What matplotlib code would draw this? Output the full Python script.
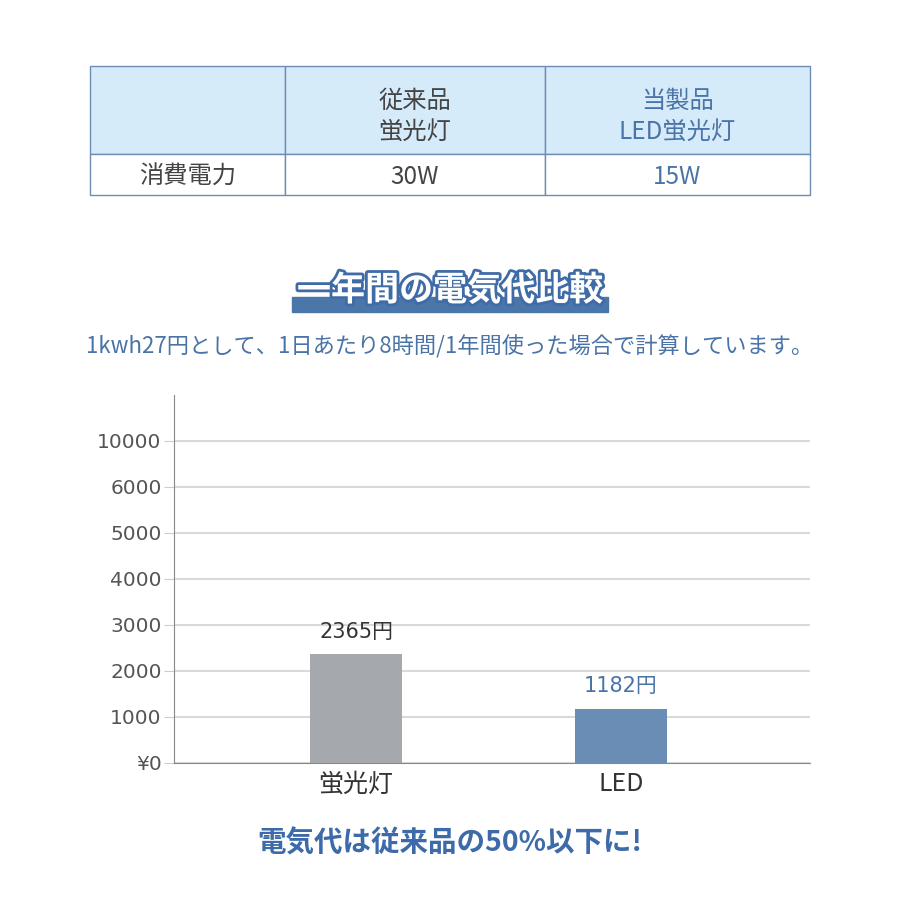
import matplotlib
matplotlib.use('Agg')
import matplotlib.pyplot as plt
import matplotlib.patheffects as pe
from matplotlib.patches import Rectangle
from matplotlib.transforms import Affine2D

plt.rcParams['font.family'] = ['Noto Sans CJK JP', 'DejaVu Sans']

# table data
table_header = ['', '従来品\n蛍光灯', '当製品\nLED蛍光灯']
table_row = ['消費電力', '30W', '15W']

# chart data
categories = ['蛍光灯', 'LED']
costs = [2365, 1182]
cost_labels = ['2365円', '1182円']
tick_values = [0, 1000, 2000, 3000, 4000, 5000, 6000, 7000]
tick_labels = ['¥0', '1000', '2000', '3000', '4000', '5000', '6000', '10000']

title = '一年間の電気代比較'
subtitle = '1kwh27円として、1日あたり8時間/1年間使った場合で計算しています。'
footer = '電気代は従来品の50%以下に!'

dark = '#444444'
blue_txt = '#4a74a8'
bar_colors = ['#a5a8ac', '#6a8db6']
label_colors = ['#333333', blue_txt]
num_font = ['DejaVu Sans', 'Noto Sans CJK JP']

fig = plt.figure(figsize=(9, 9), dpi=100)

# overlay axes in pixel coords for table / headings
ov = fig.add_axes([0, 0, 1, 1])
ov.set_xlim(0, 900)
ov.set_ylim(900, 0)
ov.axis('off')

tbl = ov.table(cellText=[table_header, table_row],
               colWidths=[195, 260, 265],
               cellLoc='center',
               bbox=[90 / 900, 1 - 195 / 900, 720 / 900, 129 / 900])
tbl.auto_set_font_size(False)
tbl.set_fontsize(17.5)
for (r, c), cell in tbl.get_celld().items():
    cell.set_edgecolor('#6d8db2')
    cell.set_linewidth(1.0)
    cell.set_height(88 if r == 0 else 41)
    cell.set_facecolor('#d6ebf9' if r == 0 else 'white')
    t = cell.get_text()
    t.set_linespacing(1.25)
    t.set_color(blue_txt if c == 2 else dark)
    # nudge text down a little (display pixels)
    t.set_transform(Affine2D().translate(0, -6 if r == 0 else -2))

# title banner
ov.add_patch(Rectangle((292, 297), 316, 15, color='#4a76aa', zorder=2))
ov.text(450, 290, title, ha='center', va='center', fontsize=24.5,
        fontweight='bold', color='white', zorder=3,
        path_effects=[pe.Stroke(linewidth=4, foreground='#3f6ba6'), pe.Normal()])

ov.text(450, 347, subtitle, ha='center', va='center', fontsize=16,
        color=blue_txt)
ov.text(450, 844, footer, ha='center', va='center', fontsize=20.5,
        fontweight='bold', color='#3d6aa8')

# bar chart
ax = fig.add_axes([174 / 900, 1 - 763 / 900, 636 / 900, 368 / 900])
x = range(len(categories))
ax.bar(x, costs, width=0.35, color=bar_colors, zorder=3)
ax.set_xlim(-0.687, 1.713)
ax.set_ylim(0, 8000)
ax.set_yticks(tick_values)
ax.set_yticklabels(tick_labels, fontsize=14.5, color='#555555', family=num_font)
ax.set_xticks(list(x))
ax.set_xticklabels(categories, fontsize=18, color='#333333')
ax.tick_params(axis='x', length=0, pad=6)
ax.tick_params(axis='y', length=7, color='#cccccc', pad=2)
ax.grid(axis='y', color='#d9d9d9', linewidth=1.5, zorder=0)
for s in ['top', 'right']:
    ax.spines[s].set_visible(False)
ax.spines['left'].set_color('#888888')
ax.spines['bottom'].set_color('#888888')
for i, v in enumerate(costs):
    ax.text(i, v + 490, cost_labels[i], ha='center', va='center',
            fontsize=15, color=label_colors[i], family=num_font)

fig.savefig('out.png', dpi=100, facecolor='white')
